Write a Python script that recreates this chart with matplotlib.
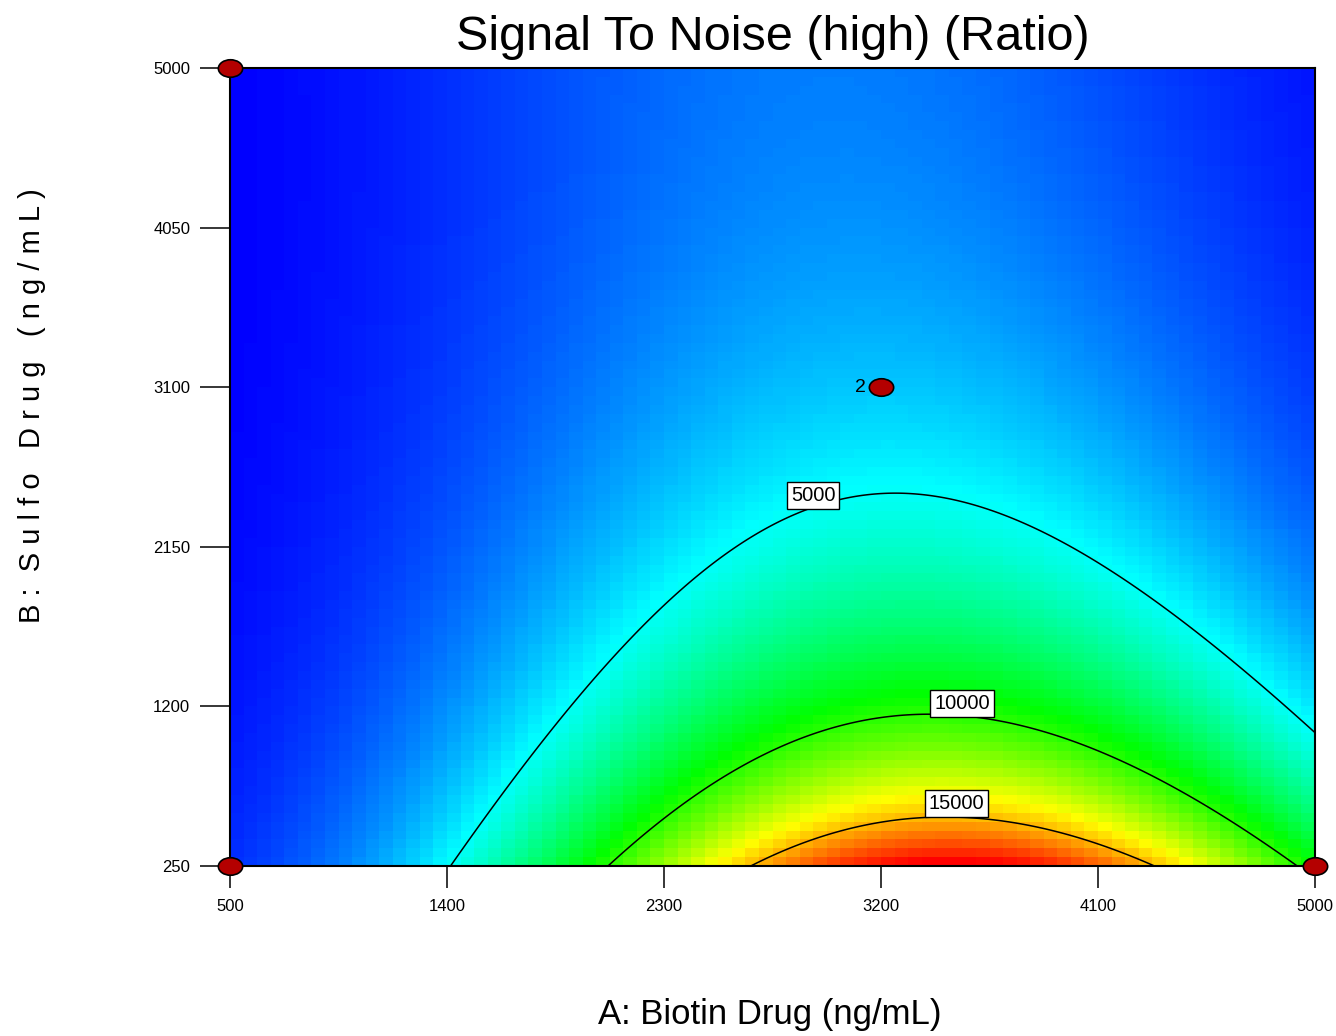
import numpy as np
import matplotlib
matplotlib.use("Agg")
import matplotlib.pyplot as plt
from matplotlib.colors import LinearSegmentedColormap
from matplotlib.path import Path
from matplotlib.transforms import Affine2D

plt.rcParams['font.family'] = ['Liberation Sans', 'DejaVu Sans']

# Factor ranges (ng/mL)
a_low, a_high = 500, 5000
b_low, b_high = 250, 5000

# Fitted quadratic model for ln(Signal To Noise), coded factors in [-1, 1]
coef_intercept = 8.378
coef_a = 0.670
coef_b = -0.903
coef_ab = -0.346
coef_aa = -1.530
coef_bb = 0.378

# Design points (A, B) and their replicate counts
design_a = [500, 500, 5000, 3200]
design_b = [250, 5000, 250, 3100]
design_reps = [1, 1, 1, 2]

# Contour levels and label anchor positions (A, B)
contour_levels = [5000, 10000, 15000]
label_a = [2918, 3536, 3513]
label_b = [2458, 1217, 622]

x_ticks = [500, 1400, 2300, 3200, 4100, 5000]
y_ticks = [250, 1200, 2150, 3100, 4050, 5000]


def response(A, B):
    a = (A - (a_low + a_high) / 2) / ((a_high - a_low) / 2)
    b = (B - (b_low + b_high) / 2) / ((b_high - b_low) / 2)
    ln_y = (coef_intercept + coef_a * a + coef_b * b + coef_ab * a * b
            + coef_aa * a ** 2 + coef_bb * b ** 2)
    return np.exp(ln_y)


fig = plt.figure(figsize=(13.36, 10.36), dpi=100)
ax = fig.add_axes([230 / 1336, 170 / 1036, 1085 / 1336, 798 / 1036])

# Blocky colour surface
nx, ny = 80, 90
xe = np.linspace(a_low, a_high, nx + 1)
ye = np.linspace(b_low, b_high, ny + 1)
xc = (xe[:-1] + xe[1:]) / 2
yc = (ye[:-1] + ye[1:]) / 2
XC, YC = np.meshgrid(xc, yc)
Z = response(XC, YC)

cmap = LinearSegmentedColormap.from_list(
    "de", ["#0000ff", "#00ffff", "#00ff00", "#ffff00", "#ff0000"])
ax.pcolormesh(xe, ye, Z, cmap=cmap, vmin=Z.min(), vmax=Z.max(),
              shading='flat', rasterized=True)

# Smooth contour lines
xf = np.linspace(a_low, a_high, 400)
yf = np.linspace(b_low, b_high, 400)
XF, YF = np.meshgrid(xf, yf)
ZF = response(XF, YF)
ax.contour(XF, YF, ZF, levels=contour_levels, colors='black', linewidths=1.1)

for lev, la, lb in zip(contour_levels, label_a, label_b):
    ax.text(la, lb, f"{lev}", fontsize=14.5, ha='center', va='center',
            bbox=dict(boxstyle='square,pad=0.2', fc='white', ec='black', lw=1.0),
            zorder=5)

# Design points as ellipses
ellipse = Path.unit_circle().transformed(Affine2D().scale(1.0, 0.72))
ax.plot(design_a, design_b, linestyle='none', marker=ellipse, markersize=17.5,
        markerfacecolor='#b40000', markeredgecolor='black', markeredgewidth=1.2,
        clip_on=False, zorder=10)
for da, db, n in zip(design_a, design_b, design_reps):
    if n > 1:
        ax.annotate(str(n), xy=(da, db), xytext=(-11, 0),
                    textcoords='offset points', ha='right', va='center',
                    fontsize=14)

ax.set_xlim(a_low, a_high)
ax.set_ylim(b_low, b_high)
ax.set_xticks(x_ticks)
ax.set_yticks(y_ticks)
ax.set_xticklabels([str(v) for v in x_ticks])
ax.set_yticklabels([str(v) for v in y_ticks])
ax.tick_params(axis='x', direction='out', length=16, width=1.1, pad=8,
               labelsize=12)
ax.tick_params(axis='y', direction='out', length=21.6, width=1.1, pad=7,
               labelsize=12)
for sp in ax.spines.values():
    sp.set_linewidth(1.5)
    sp.set_zorder(6)

fig.text(772.5 / 1336, 1 - 50 / 1036, "Signal To Noise (high) (Ratio)",
         fontsize=35, ha='center', va='baseline')
fig.text(770 / 1336, 12 / 1036, "A: Biotin Drug (ng/mL)",
         fontsize=25, ha='center', va='baseline')
fig.text(32 / 1336, 1 - 406 / 1036, "B :  S u l f o   D r u g   ( n g / m L )",
         fontsize=21, ha='center', va='center', rotation=90)

fig.savefig("out.png", dpi=100)
